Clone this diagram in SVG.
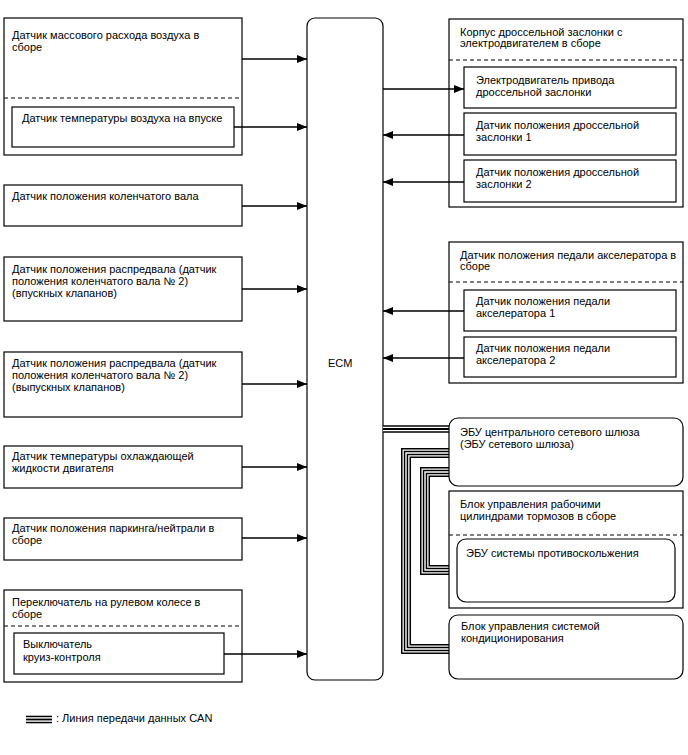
<svg xmlns="http://www.w3.org/2000/svg" width="688" height="755" viewBox="0 0 688 755">
<style>
.b{fill:#fff;stroke:#000;stroke-width:1.2}
.d{stroke:#000;stroke-width:1;stroke-dasharray:4,3;fill:none}
.t{font-family:"Liberation Sans",Arial,sans-serif;font-size:11px;fill:#000}
.w{stroke:#000;stroke-width:1.3;fill:none}
.c1{stroke:#000;fill:none;stroke-width:10}
.c2{stroke:#fff;fill:none;stroke-width:7}
.c3{stroke:#000;fill:none;stroke-width:4.4}
.c4{stroke:#fff;fill:none;stroke-width:1.4}
.k1{stroke:#000;fill:none;stroke-width:7.6}
.k2{stroke:#fff;fill:none;stroke-width:4.6}
.k3{stroke:#000;fill:none;stroke-width:1.8}
</style>
<defs>
<marker id="ah" viewBox="0 0 10 8" refX="10" refY="4" markerWidth="10" markerHeight="8" markerUnits="userSpaceOnUse" orient="auto">
<path d="M0,0L10,4L0,8z" fill="#000"/>
</marker>
</defs>
<rect width="688" height="755" fill="#fff"/>

<g id="ecm">
<rect class="b" x="307" y="18" width="76" height="662" rx="8"/>
<text class="t" x="328" y="367">ECM</text>
</g>

<g id="maf">
<rect class="b" x="4" y="18" width="238" height="137"/>
<text class="t" x="12" y="39">Датчик массового расхода воздуха в</text>
<text class="t" x="12" y="51">сборе</text>
<line class="d" x1="4" y1="98" x2="242" y2="98"/>
<rect class="b" x="12" y="107" width="222" height="40"/>
<text class="t" x="22" y="122">Датчик температуры воздуха на впуске</text>
</g>

<g id="crank">
<rect class="b" x="4" y="185" width="238" height="41"/>
<text class="t" x="12" y="200">Датчик положения коленчатого вала</text>
</g>

<g id="cam-in">
<rect class="b" x="4" y="257" width="238" height="64"/>
<text class="t" x="12" y="273">Датчик положения распредвала (датчик</text>
<text class="t" x="12" y="285">положения коленчатого вала № 2)</text>
<text class="t" x="12" y="297">(впускных клапанов)</text>
</g>

<g id="cam-ex">
<rect class="b" x="4" y="352" width="238" height="65"/>
<text class="t" x="12" y="367">Датчик положения распредвала (датчик</text>
<text class="t" x="12" y="379">положения коленчатого вала № 2)</text>
<text class="t" x="12" y="391">(выпускных клапанов)</text>
</g>

<g id="coolant">
<rect class="b" x="4" y="446" width="238" height="42"/>
<text class="t" x="12" y="460">Датчик температуры охлаждающей</text>
<text class="t" x="12" y="472">жидкости двигателя</text>
</g>

<g id="pn">
<rect class="b" x="4" y="518" width="238" height="42"/>
<text class="t" x="12" y="532">Датчик положения паркинга/нейтрали в</text>
<text class="t" x="12" y="544">сборе</text>
</g>

<g id="steer">
<rect class="b" x="4" y="590" width="238" height="92"/>
<text class="t" x="12" y="606">Переключатель на рулевом колесе в</text>
<text class="t" x="12" y="618">сборе</text>
<line class="d" x1="4" y1="626" x2="242" y2="626"/>
<rect class="b" x="14" y="633" width="210" height="41"/>
<text class="t" x="23" y="648">Выключатель</text>
<text class="t" x="23" y="661">круиз-контроля</text>
</g>

<g id="throttle">
<rect class="b" x="449" y="19" width="234" height="188"/>
<text class="t" x="460" y="36">Корпус дроссельной заслонки с</text>
<text class="t" x="460" y="47">электродвигателем в сборе</text>
<line class="d" x1="449" y1="60" x2="683" y2="60"/>
<rect class="b" x="464" y="67" width="212" height="41"/>
<text class="t" x="476" y="84">Электродвигатель привода</text>
<text class="t" x="476" y="96">дроссельной заслонки</text>
<rect class="b" x="464" y="113" width="212" height="42"/>
<text class="t" x="476" y="129">Датчик положения дроссельной</text>
<text class="t" x="476" y="141">заслонки 1</text>
<rect class="b" x="464" y="160" width="212" height="42"/>
<text class="t" x="476" y="176">Датчик положения дроссельной</text>
<text class="t" x="476" y="188">заслонки 2</text>
</g>

<g id="accel">
<rect class="b" x="449" y="242" width="234" height="141"/>
<text class="t" x="460" y="259">Датчик положения педали акселератора в</text>
<text class="t" x="460" y="270">сборе</text>
<line class="d" x1="449" y1="282" x2="683" y2="282"/>
<rect class="b" x="464" y="290" width="212" height="41"/>
<text class="t" x="476" y="305">Датчик положения педали</text>
<text class="t" x="476" y="317">акселератора 1</text>
<rect class="b" x="464" y="337" width="212" height="40"/>
<text class="t" x="476" y="352">Датчик положения педали</text>
<text class="t" x="476" y="364">акселератора 2</text>
</g>

<g id="connectors">
<line class="w" x1="242" y1="59" x2="307" y2="59" marker-end="url(#ah)"/>
<line class="w" x1="234" y1="127" x2="307" y2="127" marker-end="url(#ah)"/>
<line class="w" x1="242" y1="206" x2="307" y2="206" marker-end="url(#ah)"/>
<line class="w" x1="242" y1="289" x2="307" y2="289" marker-end="url(#ah)"/>
<line class="w" x1="242" y1="384" x2="307" y2="384" marker-end="url(#ah)"/>
<line class="w" x1="242" y1="467" x2="307" y2="467" marker-end="url(#ah)"/>
<line class="w" x1="242" y1="538" x2="307" y2="538" marker-end="url(#ah)"/>
<line class="w" x1="224" y1="654" x2="307" y2="654" marker-end="url(#ah)"/>
<line class="w" x1="383" y1="89" x2="464" y2="89" marker-end="url(#ah)"/>
<line class="w" x1="464" y1="135" x2="383" y2="135" marker-end="url(#ah)"/>
<line class="w" x1="464" y1="182" x2="383" y2="182" marker-end="url(#ah)"/>
<line class="w" x1="464" y1="311" x2="383" y2="311" marker-end="url(#ah)"/>
<line class="w" x1="464" y1="358" x2="383" y2="358" marker-end="url(#ah)"/>
<path class="k1" d="M383,429H450"/>
<path class="k2" d="M383,429H450"/>
<path class="k3" d="M383,429H450"/>
<path class="c1" d="M450,453H406V649H450"/>
<path class="c2" d="M450,453H406V649H450"/>
<path class="c3" d="M450,453H406V649H450"/>
<path class="c4" d="M450,453H406V649H450"/>
<path class="c1" d="M450,472H425V570H458"/>
<path class="c2" d="M450,472H425V570H458"/>
<path class="c3" d="M450,472H425V570H458"/>
<path class="c4" d="M450,472H425V570H458"/>
</g>

<g id="gateway">
<rect class="b" x="449" y="418" width="234" height="68" rx="9"/>
<text class="t" x="460" y="436">ЭБУ центрального сетевого шлюза</text>
<text class="t" x="460" y="448">(ЭБУ сетевого шлюза)</text>
</g>

<g id="brake">
<rect class="b" x="449" y="491" width="234" height="117"/>
<text class="t" x="460" y="508">Блок управления рабочими</text>
<text class="t" x="460" y="520">цилиндрами тормозов в сборе</text>
<line class="d" x1="449" y1="535" x2="683" y2="535"/>
<rect class="b" x="457" y="539" width="218" height="63" rx="9"/>
<text class="t" x="466" y="557">ЭБУ системы противоскольжения</text>
</g>

<g id="ac">
<rect class="b" x="449" y="615" width="234" height="64" rx="9"/>
<text class="t" x="461" y="630">Блок управления системой</text>
<text class="t" x="461" y="642">кондиционирования</text>
</g>

<g id="legend">
<path class="k1" d="M26,719.5H52"/>
<path class="k2" d="M26,719.5H52"/>
<path class="k3" d="M26,719.5H52"/>
<text class="t" x="56" y="722">: Линия передачи данных CAN</text>
</g>
</svg>
